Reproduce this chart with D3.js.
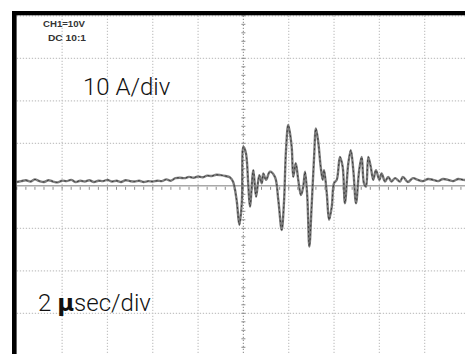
<!DOCTYPE html>
<html>
<head>
<meta charset="utf-8">
<script src="https://cdn.jsdelivr.net/npm/d3@7"></script>
<style>
  html, body { margin: 0; padding: 0; background: #fff; }
  svg { display: block; }
</style>
</head>
<body>
<svg id="chart" width="465" height="354"></svg>
<script>
// ---- data (time in µs, current in A) ----
const timeUs = [
  0.0, 0.2, 0.4, 0.6, 0.8, 1.0, 1.2, 1.4, 1.6, 1.8, 2.0, 2.2, 2.4, 2.6, 2.8, 3.0,
  3.2, 3.4, 3.6, 3.8, 4.0, 4.2, 4.4, 4.6, 4.8, 5.0, 5.2, 5.4, 5.6, 5.8, 6.0, 6.2,
  6.4, 6.6, 6.8, 7.0, 7.2, 7.4, 7.6, 7.8, 8.0, 8.2, 8.4, 8.6, 8.8, 9.0, 9.2, 9.4,
  9.54, 9.70, 9.82, 9.93, 10.00, 10.11, 10.22, 10.29, 10.44, 10.56, 10.70, 10.81,
  10.88, 11.00, 11.17, 11.39, 11.54, 11.69, 11.79, 11.88, 11.98, 12.13, 12.20,
  12.31, 12.42, 12.54, 12.64, 12.72, 12.82, 12.91, 13.01, 13.12, 13.20, 13.31,
  13.41, 13.50, 13.56, 13.68, 13.78, 13.90, 14.00, 14.12, 14.26, 14.38, 14.48,
  14.63, 14.74, 14.85, 14.97, 15.11, 15.22, 15.32, 15.41, 15.51, 15.62, 15.73,
  15.85, 16.00, 16.10, 16.25, 16.39, 16.54, 16.69, 16.91, 17.04, 17.26, 17.48,
  17.70, 17.92, 18.15, 18.37, 18.59, 18.81, 19.03, 19.25, 19.48, 19.70, 20.00
];
const currentA = [
  0.9, 1.1, 1.3, 1.0, 1.5, 1.1, 0.9, 1.3, 1.0, 0.8, 1.2, 1.1, 1.4, 0.9, 1.2, 1.0,
  1.3, 0.9, 1.2, 1.1, 1.4, 1.0, 1.2, 0.9, 1.3, 1.1, 1.0, 1.2, 0.9, 1.1, 1.0, 1.2,
  1.1, 1.5, 1.2, 1.8, 1.9, 1.8, 2.1, 1.9, 2.2, 2.0, 2.4, 2.3, 2.6, 2.5, 2.3, 2.0,
  1.0, -3.3, -9.2, -4.0, 9.2, 7.7, -0.2, -4.9, 3.7, -2.6, 2.5, 0.6,
  2.9, 1.4, 3.3, 2.1, -3.3, -10.4, -4.0, 8.4, 14.3, 9.2, 2.1,
  5.3, 1.4, -2.2, -0.2, 3.3, -2.6, -14.3, -4.9, 6.8, 13.5, 10.0,
  4.5, 1.4, 3.7, -1.8, -8.0, -4.9, 0.6, 1.4, 6.8, 4.5, -4.1,
  5.3, 8.4, 3.7, -4.1, 3.7, 6.8, 0.6, -0.2, 6.8, 4.5, 1.4,
  3.7, 1.4, 2.9, 1.0, 2.1, 1.0, 1.8, 1.0, 2.1, 0.9, 1.8,
  1.4, 1.1, 1.6, 1.4, 1.1, 1.6, 1.4, 1.1, 1.6, 1.4, 1.4
];
const timeDivisions = [0, 2, 4, 6, 8, 10, 12, 14, 16, 18, 20];      // µs, 2 µs/div
const currentDivisions = [-40, -30, -20, -10, 0, 10, 20, 30, 40];   // A, 10 A/div
const scopeHeader = ["CH1=10V", "DC  10:1"];
const voltsLabel = "10 A/div";
const timeLabelParts = ["2 ", "\u03BC", "sec/div"];

// ---- layout ----
const svg = d3.select("#chart");
const padL = 16.8, padT = 15.8, divW = 45.32, divH = 42.5;
const x = d3.scaleLinear().domain([0, 20]).range([padL, padL + 10 * divW]);
const y = d3.scaleLinear().domain([-40, 40]).range([padT + 8 * divH, padT]);

// grid (dotted)
const grid = svg.append("g");
grid.selectAll("line.v").data(timeDivisions.slice(1)).enter().append("line")
  .attr("x1", d => x(d)).attr("x2", d => x(d))
  .attr("y1", padT).attr("y2", 354)
  .attr("stroke", d => d === 10 ? "#9a9a9a" : "#c4c4c4")
  .attr("stroke-width", 1.2)
  .attr("stroke-dasharray", "1.3,1.7");
grid.selectAll("line.h").data(currentDivisions.slice(1)).enter().append("line")
  .attr("x1", padL).attr("x2", 465)
  .attr("y1", d => y(d)).attr("y2", d => y(d))
  .attr("stroke", d => d === 0 ? "#a8a8a8" : "#c4c4c4")
  .attr("stroke-width", d => d === 0 ? 1.6 : 1.2)
  .attr("stroke-dasharray", d => d === 0 ? null : "1.3,1.7");

// minor ticks along centre lines (5 per division)
const minorT = d3.range(0, 20.001, 0.4);
grid.selectAll("line.mt").data(minorT).enter().append("line")
  .attr("x1", d => x(d)).attr("x2", d => x(d))
  .attr("y1", y(0) + 1).attr("y2", y(0) + 4)
  .attr("stroke", "#8c8c8c").attr("stroke-width", 1);
const minorI = d3.range(-40, 40.001, 2);
grid.selectAll("line.mi").data(minorI).enter().append("line")
  .attr("x1", x(10) - 2).attr("x2", x(10) + 2)
  .attr("y1", d => y(d)).attr("y2", d => y(d))
  .attr("stroke", "#8c8c8c").attr("stroke-width", 1);

// trace
const pts = timeUs.map((t, i) => [t, currentA[i]]);
const line = d3.line().x(d => x(d[0])).y(d => y(d[1])).curve(d3.curveCatmullRom.alpha(0.5));
svg.append("path").datum(pts).attr("d", line)
  .attr("fill", "none").attr("stroke", "#7e7e7e").attr("stroke-width", 2.4)
  .attr("stroke-linejoin", "round");
svg.append("path").datum(pts).attr("d", line)
  .attr("fill", "none").attr("stroke", "#2e2e2e").attr("stroke-width", 1)
  .attr("stroke-dasharray", "2,2.5").attr("opacity", 0.85);

// frame (thick black left and top edges)
svg.append("rect").attr("x", 12).attr("y", 11).attr("width", 465 - 12).attr("height", 4.3).attr("fill", "#000");
svg.append("rect").attr("x", 12).attr("y", 11).attr("width", 4.6).attr("height", 354 - 11).attr("fill", "#000");

// header text
svg.append("text").attr("x", 43).attr("y", 27).text(scopeHeader[0])
  .attr("font-family", "Liberation Sans Narrow, Liberation Sans, sans-serif")
  .attr("font-weight", "bold").attr("font-size", 9.5).attr("fill", "#333")
  .attr("textLength", 42).attr("lengthAdjust", "spacingAndGlyphs");
svg.append("text").attr("x", 48).attr("y", 41).text(scopeHeader[1])
  .attr("font-family", "Liberation Sans Narrow, Liberation Sans, sans-serif")
  .attr("font-weight", "bold").attr("font-size", 9.5).attr("fill", "#333")
  .attr("textLength", 38).attr("lengthAdjust", "spacingAndGlyphs");

// labels
svg.append("text").attr("x", 83).attr("y", 94.5).text(voltsLabel)
  .attr("font-family", "Roboto, sans-serif").attr("font-weight", 300)
  .attr("font-size", 24).attr("fill", "#111");
const tl = svg.append("text").attr("x", 38).attr("y", 310.5)
  .attr("font-family", "Roboto, sans-serif").attr("font-weight", 300)
  .attr("font-size", 24).attr("fill", "#111");
tl.append("tspan").text(timeLabelParts[0]);
tl.append("tspan").text(timeLabelParts[1]).attr("font-weight", 600)
  .attr("font-family", "DejaVu Sans, sans-serif").attr("font-size", 23);
tl.append("tspan").text(timeLabelParts[2]);
</script>
</body>
</html>
